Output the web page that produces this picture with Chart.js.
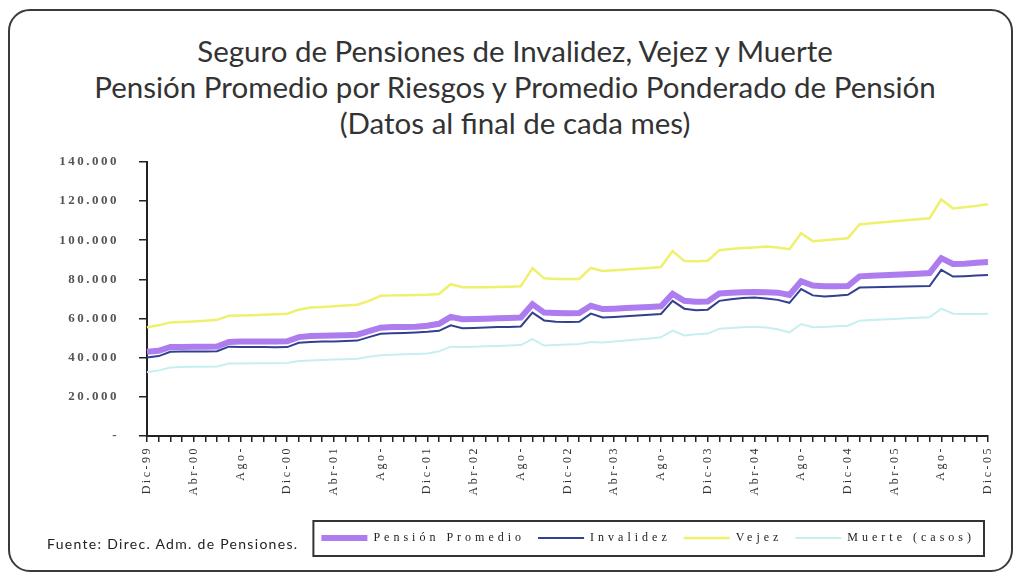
<!DOCTYPE html>
<html>
<head>
<meta charset="utf-8">
<script src="https://cdn.jsdelivr.net/npm/chart.js@4.4.0/dist/chart.umd.min.js"></script>
<style>
  body { margin: 0; background: #fff; }
  #wrap { position: relative; width: 1020px; height: 577px; overflow: hidden; }
  #frame { position: absolute; left: 8px; top: 9px; width: 1001px; height: 559px; border: 2px solid #3a3a3a; border-radius: 22px; }
  #title { position: absolute; left: 5px; top: 33px; width: 1020px; text-align: center; font-family: Lato, sans-serif; font-size: 29.5px; line-height: 36px; color: #333; }
  #fuente { position: absolute; left: 47px; top: 535px; font-family: Lato, sans-serif; font-size: 14px; letter-spacing: 1.3px; color: #222; }
  #box { position: absolute; left: 0; top: 134px; width: 1020px; height: 436px; }
  canvas { display: block; }
</style>
</head>
<body>
<div id="wrap">
  <div id="frame"></div>
  <div id="title">Seguro de Pensiones de Invalidez, Vejez y Muerte<br>Pensión Promedio por Riesgos y Promedio Ponderado de Pensión<br>(Datos al final de cada mes)</div>
  <div id="box"><canvas id="chart" width="1020" height="436"></canvas></div>
  <div id="fuente">Fuente: Direc. Adm. de Pensiones.</div>
</div>
<script>
// meses Dic-99 .. Dic-05
const monthNames = ['Ene','Feb','Mar','Abr','May','Jun','Jul','Ago','Sep','Oct','Nov','Dic'];
const months = ['Dic-99'];
for (let y = 0; y <= 5; y++) {
  monthNames.forEach(m => months.push(m + '-0' + y));
}

const xTickLabels = ['Dic-99','Abr-00','Ago-','Dic-00','Abr-01','Ago-','Dic-01','Abr-02','Ago-','Dic-02',
  'Abr-03','Ago-','Dic-03','Abr-04','Ago-','Dic-04','Abr-05','Ago-','Dic-05'];
const yTickLabels = ['-','20.000','40.000','60.000','80.000','100.000','120.000','140.000'];

const pension = [43000,43500,45500,45500,45600,45600,45700,
  48000,48200,48200,48300,48300,48400,
  50500,51000,51200,51300,51500,51700,
  53500,55300,55600,55700,55800,56300,
  57300,60800,59600,59700,59900,60100,60300,60500,
  67300,63000,62800,62700,62800,
  66500,64800,65000,65300,65600,65900,66200,
  72600,69000,68500,68700,
  72800,73200,73400,73500,73400,73200,72000,
  79000,76800,76400,76400,76600,
  81500,81800,82100,82300,82600,82900,83200,
  90800,87800,88000,88400,88800];

const invalidez = [40100,40800,43000,43100,43100,43200,43300,
  45600,45500,45400,45400,45300,45400,
  47600,48000,48200,48300,48500,48700,
  50500,52200,52400,52600,52900,53200,
  53700,56500,55000,55200,55400,55600,55700,55900,
  63000,59000,58300,58200,58300,
  62500,60500,60800,61200,61500,61900,62300,
  69000,65000,64200,64500,
  69000,69800,70500,70700,70200,69500,68000,
  75000,71800,71200,71600,72100,
  75800,76000,76100,76200,76300,76400,76600,
  84800,81400,81600,81900,82200];

const vejez = [55500,56500,58000,58200,58500,58900,59300,
  61400,61500,61700,61900,62100,62400,
  64500,65600,65900,66200,66600,67000,
  69000,71600,71800,71900,72000,72100,
  72500,77500,76000,75900,76000,76100,76200,76400,
  85700,80500,80200,80100,80200,
  85800,84300,84600,85000,85400,85800,86300,
  94400,89300,89200,89500,
  94900,95500,96000,96300,96700,96300,95400,
  103500,99500,100000,100500,101000,
  108000,108600,109100,109700,110200,110700,111200,
  120800,116200,116800,117500,118300];

const muerte = [32600,33500,35000,35200,35300,35400,35500,
  37000,37000,37100,37100,37200,37300,
  38300,38600,38800,39000,39200,39500,
  40500,41200,41500,41700,41900,42100,
  43200,45600,45400,45600,45800,46000,46200,46400,
  49500,46200,46500,46700,47000,
  48000,47800,48300,48800,49300,49800,50400,
  53800,51300,52000,52300,
  54800,55200,55500,55800,55400,54500,52900,
  57200,55500,55700,56000,56300,
  58900,59200,59500,59800,60100,60400,60600,
  65000,62400,62300,62300,62400];

// espaciado de letras como en el original
const spacing = {
  id: 'spacing',
  beforeLayout(chart) {
    chart.ctx.letterSpacing = '2.5px';
    const lg = chart.legend;
    if (lg && !lg._wrapped) {
      lg._wrapped = true;
      ['fit', 'draw'].forEach(fn => {
        const orig = lg[fn];
        lg[fn] = function () {
          const c = this.ctx;
          const prev = c.letterSpacing;
          c.letterSpacing = '4px';
          const r = orig.apply(this, arguments);
          c.letterSpacing = prev;
          return r;
        };
      });
    }
  },
  beforeDraw(chart) {
    chart.ctx.letterSpacing = '2.5px';
  },
  afterDraw(chart) {
    const lg = chart.legend;
    if (!lg || !lg.legendHitBoxes.length) return;
    const hb = lg.legendHitBoxes;
    const first = hb[0], last = hb[hb.length - 1];
    const cy = first.top + first.height / 2;
    const left = first.left - 8, right = last.left + last.width + 9;
    const c = chart.ctx;
    c.save();
    c.strokeStyle = '#333';
    c.lineWidth = 2;
    c.strokeRect(left, cy - 17, right - left, 35);
    c.restore();
  }
};

const ctx = document.getElementById('chart');
new Chart(ctx, {
  type: 'line',
  data: {
    labels: months,
    datasets: [
      { label: 'Pensión Promedio', data: pension, borderColor: '#ad7df0', backgroundColor: '#ad7df0', borderWidth: 6, order: 4 },
      { label: 'Invalidez', data: invalidez, borderColor: '#32408f', backgroundColor: '#32408f', borderWidth: 2, order: 1 },
      { label: 'Vejez', data: vejez, borderColor: '#eff06c', backgroundColor: '#eff06c', borderWidth: 2.5, order: 2 },
      { label: 'Muerte (casos)', data: muerte, borderColor: '#c6eff0', backgroundColor: '#c6eff0', borderWidth: 2, order: 3 }
    ]
  },
  options: {
    responsive: false,
    animation: false,
    elements: { point: { radius: 0 }, line: { tension: 0 } },
    layout: { padding: { left: 0, right: 32, top: 14, bottom: 16 } },
    plugins: {
      tooltip: { enabled: false },
      legend: {
        position: 'bottom',
        align: 'end',
        labels: {
          usePointStyle: true,
          pointStyle: 'line',
          pointStyleWidth: 46,
          padding: 13,
          color: '#222',
          font: { family: 'Liberation Serif', size: 12 },
          sort: (a, b) => a.datasetIndex - b.datasetIndex
        }
      }
    },
    scales: {
      x: {
        offset: false,
        grid: { drawOnChartArea: false, tickLength: 6, color: '#222', lineWidth: 1.5 },
        border: { color: '#222', width: 2 },
        ticks: {
          autoSkip: false, minRotation: 90, maxRotation: 90, padding: 4,
          color: '#333', font: { family: 'Liberation Serif', size: 12 },
          callback: (v, i) => i % 4 === 0 ? xTickLabels[i / 4] : ''
        },
        afterFit: s => { s.height = 83; }
      },
      y: {
        min: 0, max: 140000,
        grid: { drawOnChartArea: false, tickLength: 8, color: '#222', lineWidth: 1.5 },
        border: { color: '#222', width: 2 },
        ticks: {
          stepSize: 20000, padding: 20,
          color: '#555', font: { family: 'Liberation Serif', size: 13, weight: 'bold' },
          callback: (v, i) => yTickLabels[i]
        },
        afterFit: s => { s.width = 147; }
      }
    }
  },
  plugins: [spacing]
});
</script>
</body>
</html>
